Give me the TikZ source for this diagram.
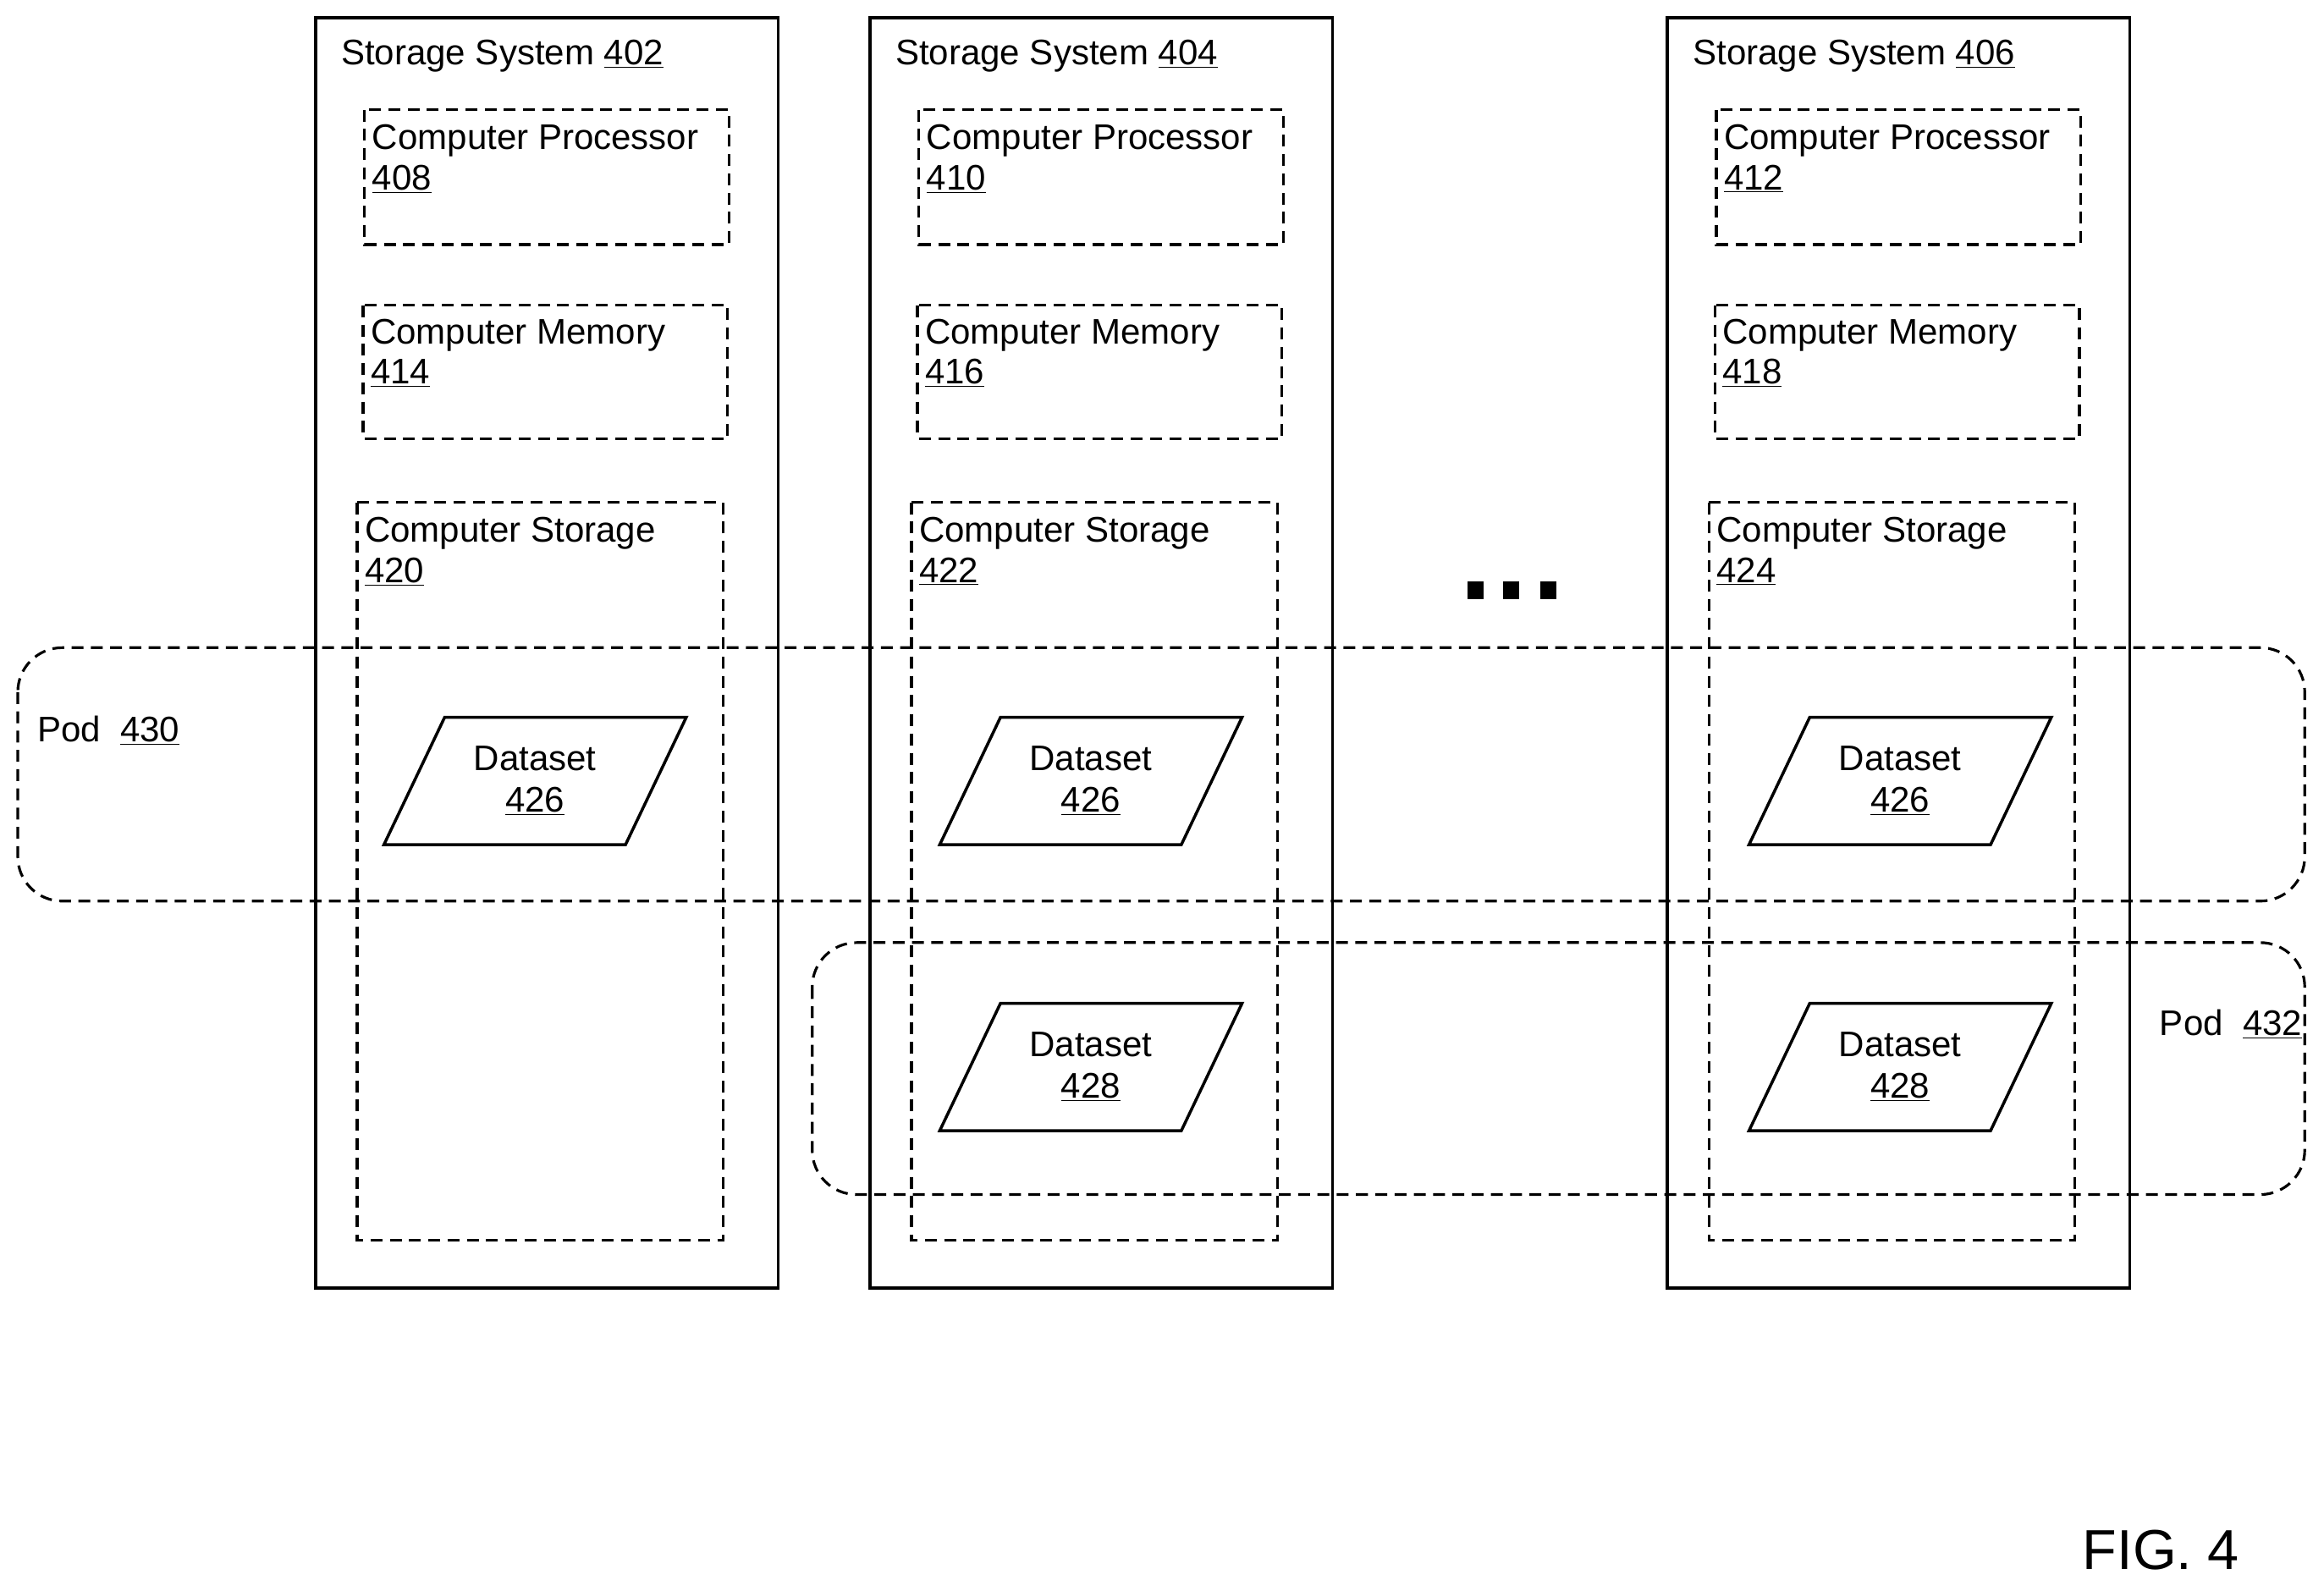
\documentclass[tikz,border=0pt]{standalone}
\usepackage{fontspec}
\setmainfont{Liberation Sans}
\begin{document}
\begin{tikzpicture}[x=1pt,y=-1pt,
  sys/.style={draw,line width=2pt},
  dbox/.style={draw,line width=1.8pt,dash pattern=on 8pt off 5pt},
  lbl/.style={font=\fontsize{24}{27}\selectfont,anchor=north west,inner sep=0pt,align=left},
  ds/.style={draw,line width=2pt,fill=white}]
\useasboundingbox (0,0) rectangle (1568,1073);
\fill[white] (0,0) rectangle (1568,1073);
% pods
\draw[dbox,rounded corners=30pt] (12,437) rectangle (1555,608);
\draw[dbox,rounded corners=30pt] (548,636) rectangle (1555,806);
\node[lbl,anchor=west] (p430) at (25,493) {Pod\ \ \underline{430}};
\node[lbl,anchor=west] (p432) at (1457,691) {Pod\ \ \underline{432}};
% systems
\foreach \x/\n/\p/\m/\s in {213/402/408/414/420, 587/404/410/416/422, 1125/406/412/418/424}{
  \draw[sys] (\x,12) rectangle +(312,857);
  \node[lbl] (ss\n) at (\x+17,27) {Storage System \underline{\n}};
  \draw[dbox] (\x+33,74) rectangle +(246,91);
  \node[lbl] (cp\p) at (\x+38,84) {Computer Processor\\\underline{\p}};
  \draw[dbox] (\x+32,206) rectangle +(246,90);
  \node[lbl] (cm\m) at (\x+37,215) {Computer Memory\\\underline{\m}};
  \draw[dbox] (\x+28,339) rectangle +(247,498);
  \node[lbl] (cs\s) at (\x+33,349) {Computer Storage\\\underline{\s}};
}
% datasets
\foreach \cx/\cy/\d [count=\i] in {361/527/426, 736/527/426, 1282/527/426, 736/720/428, 1282/720/428}{
  \draw[ds] (\cx-61,\cy-43) -- (\cx+102,\cy-43) -- (\cx+61,\cy+43) -- (\cx-102,\cy+43) -- cycle;
  \node[font=\fontsize{24}{28}\selectfont,align=center] (d\i) at (\cx,\cy) {Dataset\\\underline{\d}};
}
% dots
\foreach \dx in {996,1020,1045}{\fill (\dx-6,392) rectangle +(11,12);}
\node[font=\fontsize{38}{40}\selectfont] (fig) at (1458,1046) {FIG. 4};
\end{tikzpicture}
\end{document}
